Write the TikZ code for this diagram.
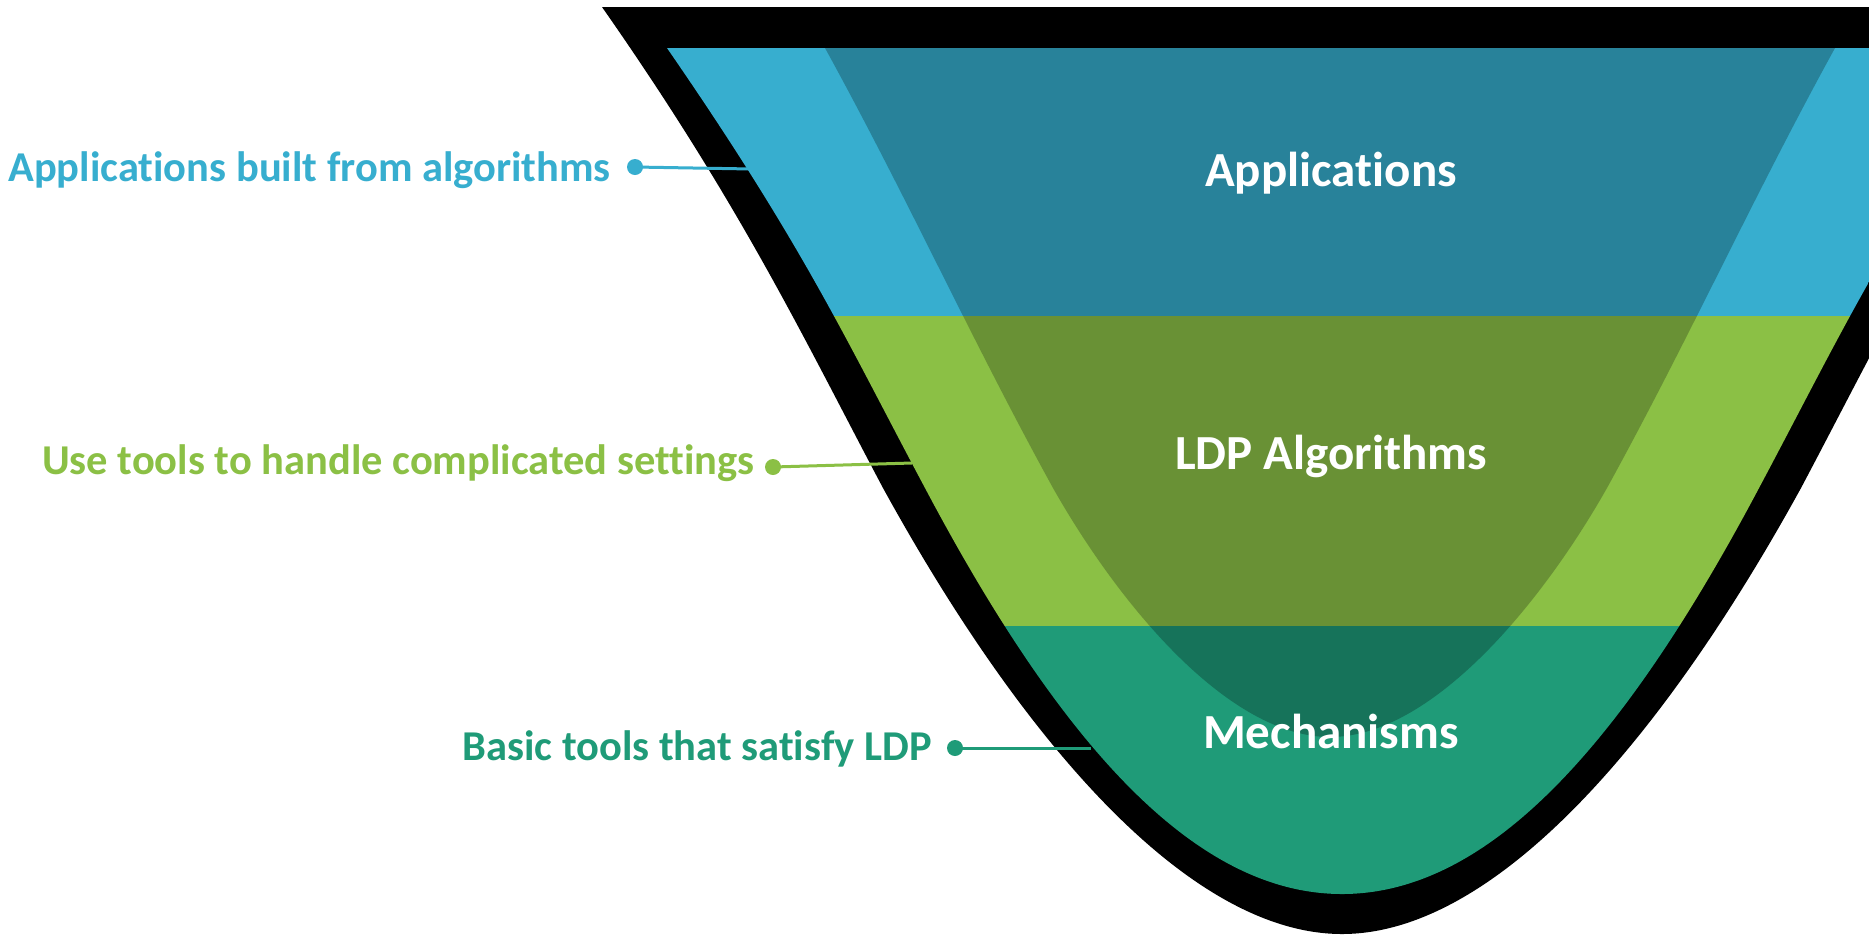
\documentclass[tikz,border=0pt]{standalone}
\usepackage{fontspec}
\setmainfont{Carlito}[Ligatures={NoCommon,NoRare}]
\definecolor{bluelt}{HTML}{37AECF}
\definecolor{bluedk}{HTML}{28829A}
\definecolor{greenlt}{HTML}{8BC045}
\definecolor{greendk}{HTML}{699135}
\definecolor{teallt}{HTML}{1F9B78}
\definecolor{tealdk}{HTML}{16735A}
% outer black rim of the funnel
\newcommand\rimpath{(602,7) .. controls (742,207) and (803.5,338) .. (883,488)
  .. controls (1026,748) and (1192,934) .. (1342,934)
  .. controls (1492,934) and (1658,748) .. (1801,488)
  .. controls (1880.5,338) and (1942,207) .. (2082,7) -- cycle}
% coloured body of the funnel
\newcommand\bodypath{(667,48) .. controls (805,248) and (845,338) .. (925,488)
  .. controls (1057.5,738) and (1192,894) .. (1342,894)
  .. controls (1492,894) and (1626.5,738) .. (1759,488)
  .. controls (1839,338) and (1879,248) .. (2017,48) -- cycle}
% darker inner core
\newcommand\corepath{(805,10) -- (825,48) .. controls (907.5,198) and (970.5,338) .. (1053,488)
  .. controls (1121,608) and (1230,737) .. (1330,737)
  .. controls (1430,737) and (1539,608) .. (1607,488)
  .. controls (1689.5,338) and (1752.5,198) .. (1835,48) -- (1855,10) -- cycle}
\tikzset{
  title/.style={text=white, font=\fontsize{24.5}{29}\selectfont\bfseries, inner sep=0, anchor=base},
  lbl/.style={font=\fontsize{21.25}{26}\selectfont\bfseries, inner sep=0, anchor=base east},
  pin/.style={circle, inner sep=0, minimum size=8pt},
  lead/.style={line width=1.5pt}
}
\begin{document}
\begin{tikzpicture}[x=0.5pt,y=-0.5pt]
\useasboundingbox (0,0) rectangle (1869,934);
\clip (0,0) rectangle (1869,934);
\fill[white] (0,0) rectangle (1869,934);

% rim
\fill[black] \rimpath;

% layers
\begin{scope}
  \clip \bodypath;
  \fill[bluelt] (0,0) rectangle (1869,316);
  \fill[greenlt] (0,316) rectangle (1869,626);
  \fill[teallt] (0,626) rectangle (1869,934);
  \begin{scope}
    \clip \corepath;
    \fill[bluedk] (0,0) rectangle (1869,316);
    \fill[greendk] (0,316) rectangle (1869,626);
    \fill[tealdk] (0,626) rectangle (1869,934);
  \end{scope}
\end{scope}

% layer titles
\node[title] (tapp) at (1331,186) {Applications};
\node[title] (talg) at (1331,469) {LDP Algorithms};
\node[title] (tmech) at (1331,748) {Mechanisms};

% callouts
\node[pin, fill=bluelt] (p1) at (635,167) {};
\coordinate (e1) at (752,169);
\draw[lead, bluelt] (p1.center) -- (e1);
\node[lbl, text=bluelt] (l1) at (611,181) {Applications built from algorithms};

\node[pin, fill=greenlt] (p2) at (773,467) {};
\coordinate (e2) at (912,463);
\draw[lead, greenlt] (p2.center) -- (e2);
\node[lbl, text=greenlt] (l2) at (755,474) {Use tools to handle complicated settings};

\node[pin, fill=teallt] (p3) at (955,748) {};
\coordinate (e3) at (1091,748);
\draw[lead, teallt] (p3.center) -- (e3);
\node[lbl, text=teallt] (l3) at (932,760) {Basic tools that satisfy LDP};
\end{tikzpicture}
\end{document}
